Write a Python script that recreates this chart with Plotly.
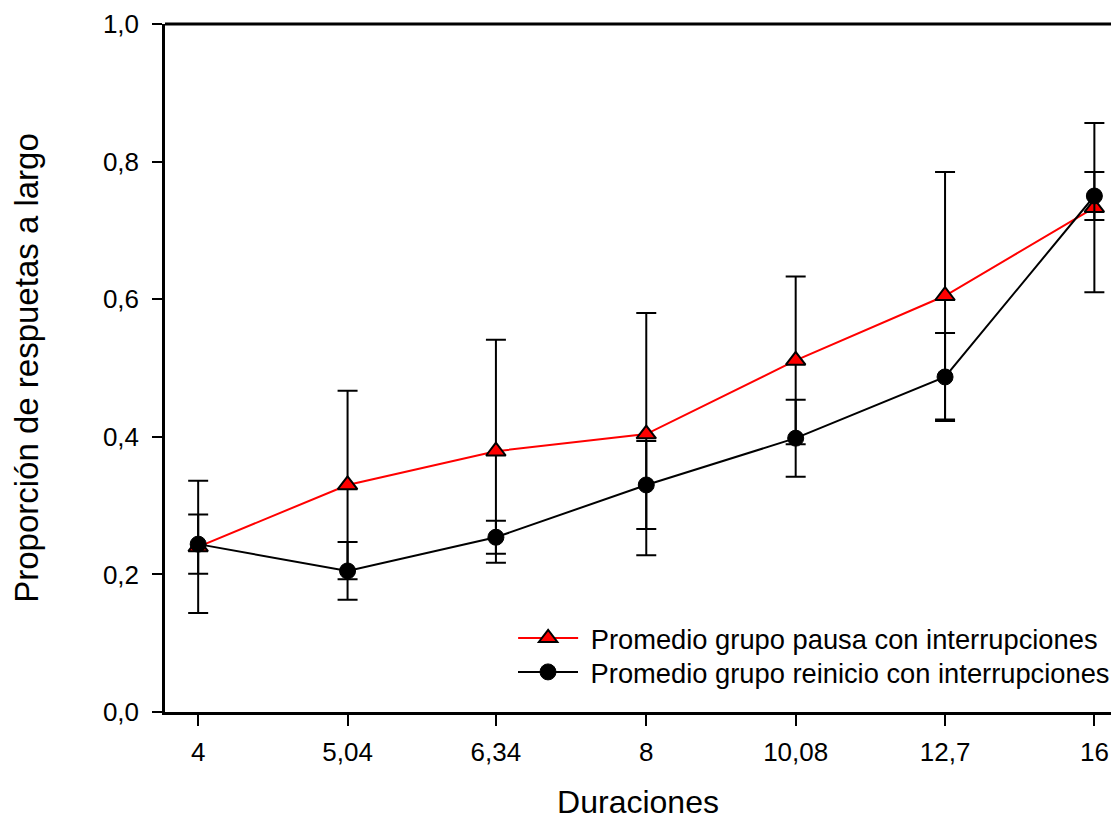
import plotly.graph_objects as go

# ---- data ----
duraciones = [4, 5.04, 6.34, 8, 10.08, 12.7, 16]
duraciones_labels = ["4", "5,04", "6,34", "8", "10,08", "12,7", "16"]

pausa = [0.240, 0.330, 0.379, 0.404, 0.511, 0.605, 0.733]
pausa_err = [0.096, 0.137, 0.162, 0.176, 0.122, 0.180, 0.123]

reinicio = [0.244, 0.205, 0.254, 0.330, 0.398, 0.487, 0.750]
reinicio_err = [0.043, 0.042, 0.024, 0.064, 0.056, 0.064, 0.035]

y_ticks = [0, 0.2, 0.4, 0.6, 0.8, 1.0]
y_tick_labels = ["0,0", "0,2", "0,4", "0,6", "0,8", "1,0"]

FONT = "Liberation Sans, Arial, sans-serif"

fig = go.Figure()

fig.add_trace(go.Scatter(
    x=duraciones, y=pausa,
    mode="lines+markers",
    name="\u00a0Promedio grupo pausa con interrupciones",
    legend="legend",
    line=dict(color="#ff0000", width=2),
    marker=dict(symbol="triangle-up", size=17, color="#ff0000",
                line=dict(color="black", width=2)),
    error_y=dict(type="data", array=pausa_err, visible=True,
                 color="black", thickness=2, width=10),
))

fig.add_trace(go.Scatter(
    x=duraciones, y=reinicio,
    mode="lines+markers",
    name="\u00a0Promedio grupo reinicio con interrupciones",
    legend="legend2",
    line=dict(color="black", width=2),
    marker=dict(symbol="circle", size=16, color="black",
                line=dict(color="black", width=1)),
    error_y=dict(type="data", array=reinicio_err, visible=True,
                 color="black", thickness=2, width=10),
))

fig.add_shape(type="line", xref="paper", yref="paper",
              x0=0, x1=1, y0=1, y1=1,
              line=dict(color="black", width=3))

legend_common = dict(
    xanchor="left", yanchor="middle",
    bgcolor="rgba(0,0,0,0)", borderwidth=0,
    font=dict(family=FONT, size=27.3, color="black"),
    itemwidth=60, tracegroupgap=0,
)

fig.update_layout(
    width=1115, height=820,
    margin=dict(l=165, r=0, t=24, b=108),
    paper_bgcolor="white", plot_bgcolor="white",
    font=dict(family=FONT, color="black", size=26),
    showlegend=True,
    legend=dict(x=0.368, y=0.1073, **legend_common),
    legend2=dict(x=0.368, y=0.0579, **legend_common),
    xaxis=dict(
        type="log", automargin=False,
        range=[0.57978, 1.21529],
        tickmode="array", tickvals=duraciones, ticktext=duraciones_labels,
        ticks="outside", ticklen=11, tickwidth=2, tickcolor="black",
        showline=True, linecolor="black", linewidth=2.5, mirror=False,
        showgrid=False, zeroline=False,
        tickfont=dict(family=FONT, size=26),
        ticklabelstandoff=4,
        title=dict(text="Duraciones", font=dict(family=FONT, size=32), standoff=30),
    ),
    yaxis=dict(
        range=[0, 1], automargin=False,
        tickmode="array", tickvals=y_ticks, ticktext=y_tick_labels,
        ticks="outside", ticklen=10, tickwidth=2, tickcolor="black",
        showline=True, linecolor="black", linewidth=2.5, mirror=False,
        showgrid=False, zeroline=False,
        tickfont=dict(family=FONT, size=26),
        ticklabelstandoff=8,
        title=dict(text="Proporción de respuetas a largo",
                   font=dict(family=FONT, size=33), standoff=55),
    ),
)

fig.write_html(
    "out.html",
    config={"displayModeBar": False},
    post_script="document.body.style.margin='0';document.body.style.overflow='hidden';",
)
